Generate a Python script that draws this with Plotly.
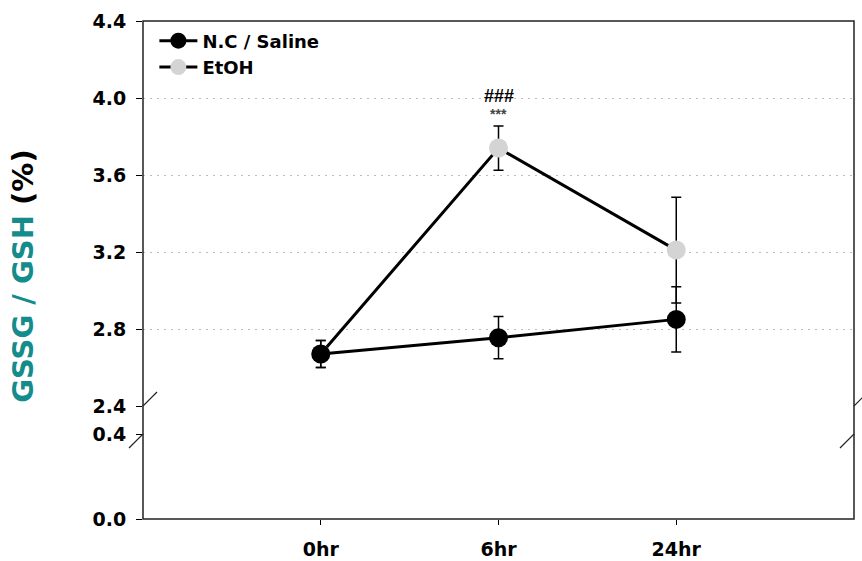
import plotly.graph_objects as go

# Time points and group means / SEM of the GSSG/GSH ratio (%)
time_labels = ["0hr", "6hr", "24hr"]
nc_saline = [2.67, 2.755, 2.85]
nc_saline_err = [0.07, 0.11, 0.17]
etoh = [2.67, 3.74, 3.21]
etoh_err = [0.07, 0.115, 0.275]

upper_ticks = [2.4, 2.8, 3.2, 3.6, 4.0, 4.4]
lower_ticks = [0.0, 0.4]

xpos = list(range(len(time_labels)))
tick_font = dict(family="DejaVu Sans", size=19, color="black", weight="bold")

fig = go.Figure()

# EtOH drawn first so the saline markers sit on top where they overlap
fig.add_trace(go.Scatter(
    x=xpos, y=etoh, name="EtOH", mode="lines+markers",
    line=dict(color="black", width=3),
    marker=dict(color="#d4d4d4", size=19, line=dict(width=0)),
    error_y=dict(type="data", array=etoh_err, color="black", thickness=1.5, width=5),
    legendrank=2, xaxis="x", yaxis="y",
))
fig.add_trace(go.Scatter(
    x=xpos, y=nc_saline, name="N.C / Saline", mode="lines+markers",
    line=dict(color="black", width=3),
    marker=dict(color="black", size=19, line=dict(width=0)),
    error_y=dict(type="data", array=nc_saline_err, color="black", thickness=1.5, width=5),
    legendrank=1, xaxis="x", yaxis="y",
))
# lower (broken) segment of the y axis
fig.add_trace(go.Scatter(x=[], y=[], xaxis="x", yaxis="y2", showlegend=False, hoverinfo="skip"))

grid = dict(showgrid=True, gridcolor="#bdbdbd", gridwidth=1, griddash="2px,5px",
            zeroline=False, showline=False, ticks="outside", ticklen=6,
            tickcolor="black", tickwidth=1, tickfont=tick_font, ticklabelstandoff=6,
            automargin=False)

fig.update_layout(
    width=862, height=561, autosize=False,
    margin=dict(l=143, r=8, t=21, b=42, autoexpand=False),
    paper_bgcolor="white", plot_bgcolor="white",
    xaxis=dict(range=[-1, 3], tickvals=xpos, ticktext=time_labels, anchor="y2",
               showgrid=False, zeroline=False, showline=False,
               ticks="outside", ticklen=5, tickcolor="black",
               tickfont=dict(family="DejaVu Sans", size=19, color="black", weight="bold"),
               ticklabelstandoff=8, automargin=False),
    yaxis=dict(domain=[113 / 498, 1], range=[2.4, 4.4], tickvals=upper_ticks,
               ticktext=[f"{v:.1f}" for v in upper_ticks], anchor="x", **grid),
    yaxis2=dict(domain=[0, 85 / 498], range=[0, 0.4], tickvals=lower_ticks,
                ticktext=[f"{v:.1f}" for v in lower_ticks], anchor="x", **grid),
    legend=dict(x=0.016, y=0.997, xanchor="left", yanchor="top",
                bgcolor="rgba(0,0,0,0)", tracegroupgap=0,
                font=dict(family="DejaVu Sans", size=18, color="black", weight="bold"),
                itemwidth=38),
    showlegend=True,
)

# plot frame
fig.add_shape(type="rect", xref="paper", yref="paper", x0=0, x1=1, y0=0, y1=1,
              line=dict(color="#222222", width=1.5), layer="above")

# axis-break slashes on both sides
for yref, yval in (("y", upper_ticks[0]), ("y2", lower_ticks[-1])):
    for xp in (0, 1):
        fig.add_shape(type="line", xref="paper", yref=yref,
                      xsizemode="pixel", xanchor=xp, x0=-14, x1=14,
                      ysizemode="pixel", yanchor=yval, y0=-14, y1=14,
                      line=dict(color="#222222", width=1.2))

# significance marks above the 6hr EtOH point
fig.add_annotation(x=xpos[1], y=etoh[1] + etoh_err[1], xref="x", yref="y",
                   text="###", showarrow=False, yshift=30,
                   font=dict(family="Liberation Sans", size=18, color="black", weight="bold"))
fig.add_annotation(x=xpos[1], y=etoh[1] + etoh_err[1], xref="x", yref="y",
                   text="***", showarrow=False, yshift=12,
                   font=dict(family="Liberation Sans", size=14, color="#444444", weight="bold"))

# y-axis title
fig.add_annotation(x=-0.169, y=0.488, xref="paper", yref="paper", textangle=-90,
                   showarrow=False, xanchor="center", yanchor="middle",
                   text="<span style='color:#148c8c'>GSSG / GSH</span> (%)",
                   font=dict(family="DejaVu Sans", size=29, color="black", weight="bold"))

fig.write_html("out.html")
